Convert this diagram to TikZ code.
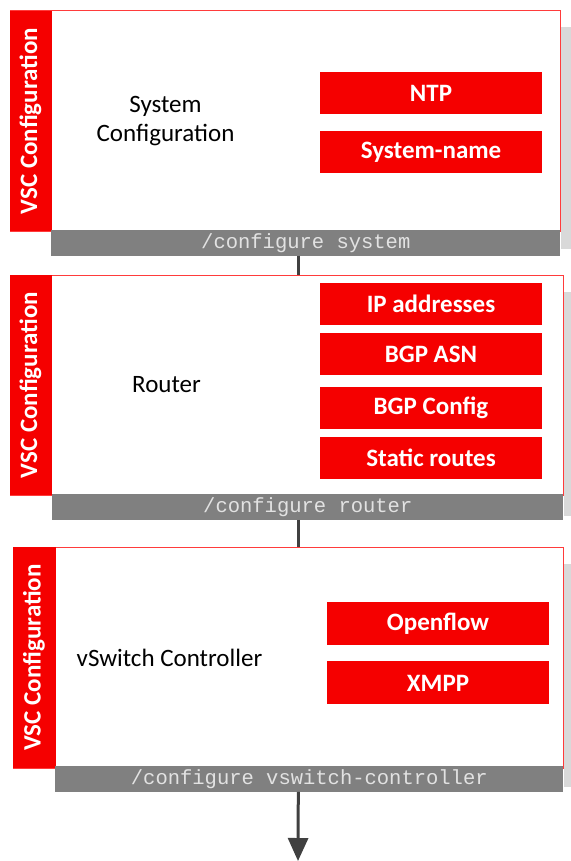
\documentclass[tikz,border=0pt]{standalone}
\usepackage{fontspec}
\setmainfont{Carlito}
\newfontfamily\cmdfont{Liberation Mono}
\usetikzlibrary{positioning}
\usetikzlibrary{arrows.meta}
\definecolor{vscred}{HTML}{F50000}
\definecolor{framered}{HTML}{FF3B3B}
\definecolor{cmdgrey}{HTML}{808080}
\definecolor{cmdtext}{HTML}{E2E2E2}
\definecolor{shadowgrey}{HTML}{D9D9D9}
\definecolor{linkgrey}{HTML}{404040}

\begin{document}
\begin{tikzpicture}[x=1pt, y=-1pt,
        nodes={inner sep=0pt},
        frame_style/.style={rectangle, draw=framered, line width=1pt, fill=white, minimum height=220pt},
        side_style/.style={rectangle, fill=vscred, text=white, rotate=90,
          font={\fontsize{25}{30}\selectfont\bfseries}, minimum width=220pt, minimum height=42pt},
        label_style/.style={align=center, font={\fontsize{25}{29}\selectfont}},
        item_style/.style={rectangle, fill=vscred, text=white, minimum width=222pt, minimum height=42pt,
          font={\fontsize{25}{30}\selectfont\bfseries}},
        cmd_style/.style={rectangle, fill=cmdgrey, text=cmdtext, minimum height=26pt, anchor=north east,
          font={\cmdfont\fontsize{20.5}{24}\selectfont}},
        shadow_style/.style={fill=shadowgrey},
        link_style/.style={draw=linkgrey, line width=3pt},
        node distance=8pt]

      \useasboundingbox (0,0) rectangle (570,861);

      % system
      \node[frame_style, minimum width=550pt] (sys_frame) at (285,121) {};
      \fill[shadow_style] ([shift={(0.5pt,-17pt)}]sys_frame.north east) rectangle ++(10,221);
      \node[side_style] (sys_side) at ([xshift=21pt]sys_frame.west) {VSC Configuration};
      \node[label_style] (sys_label) at ([xshift=156pt]sys_frame.west) {System\\Configuration};
      \node[item_style] (ntp) at (431,93) {NTP};
      \node[item_style, below=17pt of ntp] (sysname) {System-name};
      \node[cmd_style, minimum width=509pt] (sys_cmd) at ([yshift=2pt]sys_frame.south east) {/configure system};

      % router
      \node[frame_style, minimum width=553pt] (rtr_frame) at (286.5,385) {};
      \fill[shadow_style] ([shift={(0.5pt,-17pt)}]rtr_frame.north east) rectangle ++(10,224);
      \node[side_style] (rtr_side) at ([xshift=21pt]rtr_frame.west) {VSC Configuration};
      \node[label_style] (rtr_label) at ([xshift=157pt]rtr_frame.west) {Router};
      \node[item_style] (ipaddr) at (431,304) {IP addresses};
      \node[item_style, below=of ipaddr] (bgpasn) {BGP ASN};
      \node[item_style, below=11pt of bgpasn] (bgpconf) {BGP Config};
      \node[item_style, below=of bgpconf] (static) {Static routes};
      \node[cmd_style, minimum width=511pt] (rtr_cmd) at ([yshift=2pt]rtr_frame.south east) {/configure router};

      % vswitch controller
      \node[frame_style, minimum width=550pt, minimum height=221pt] (vsw_frame) at (288,657.5) {};
      \fill[shadow_style] ([shift={(0.5pt,-17pt)}]vsw_frame.north east) rectangle ++(10,223);
      \node[side_style, minimum width=221pt, minimum height=43pt] (vsw_side) at ([xshift=21.5pt]vsw_frame.west) {VSC Configuration};
      \node[label_style] (vsw_label) at ([xshift=157pt]vsw_frame.west) {vSwitch Controller};
      \node[item_style, minimum height=43pt] (openflow) at (438,623.5) {Openflow};
      \node[item_style, minimum height=43pt, below=16pt of openflow] (xmpp) {XMPP};
      \node[cmd_style, minimum width=508pt] (vsw_cmd) at ([yshift=3pt]vsw_frame.south east) {/configure vswitch-controller};

      \coordinate (out) at (298,861);

      \draw[link_style] ([xshift=-7.5pt]sys_cmd.south) -- ([xshift=-7.5pt]sys_cmd.south |- rtr_frame.north);
      \draw[link_style] ([xshift=-9.5pt]rtr_cmd.south) -- ([xshift=-9.5pt]rtr_cmd.south |- vsw_frame.north);
      \draw[link_style, -{Triangle[width=20pt, length=23pt]}] ([xshift=-11pt]vsw_cmd.south) -- (out);
    \end{tikzpicture}
\end{document}
